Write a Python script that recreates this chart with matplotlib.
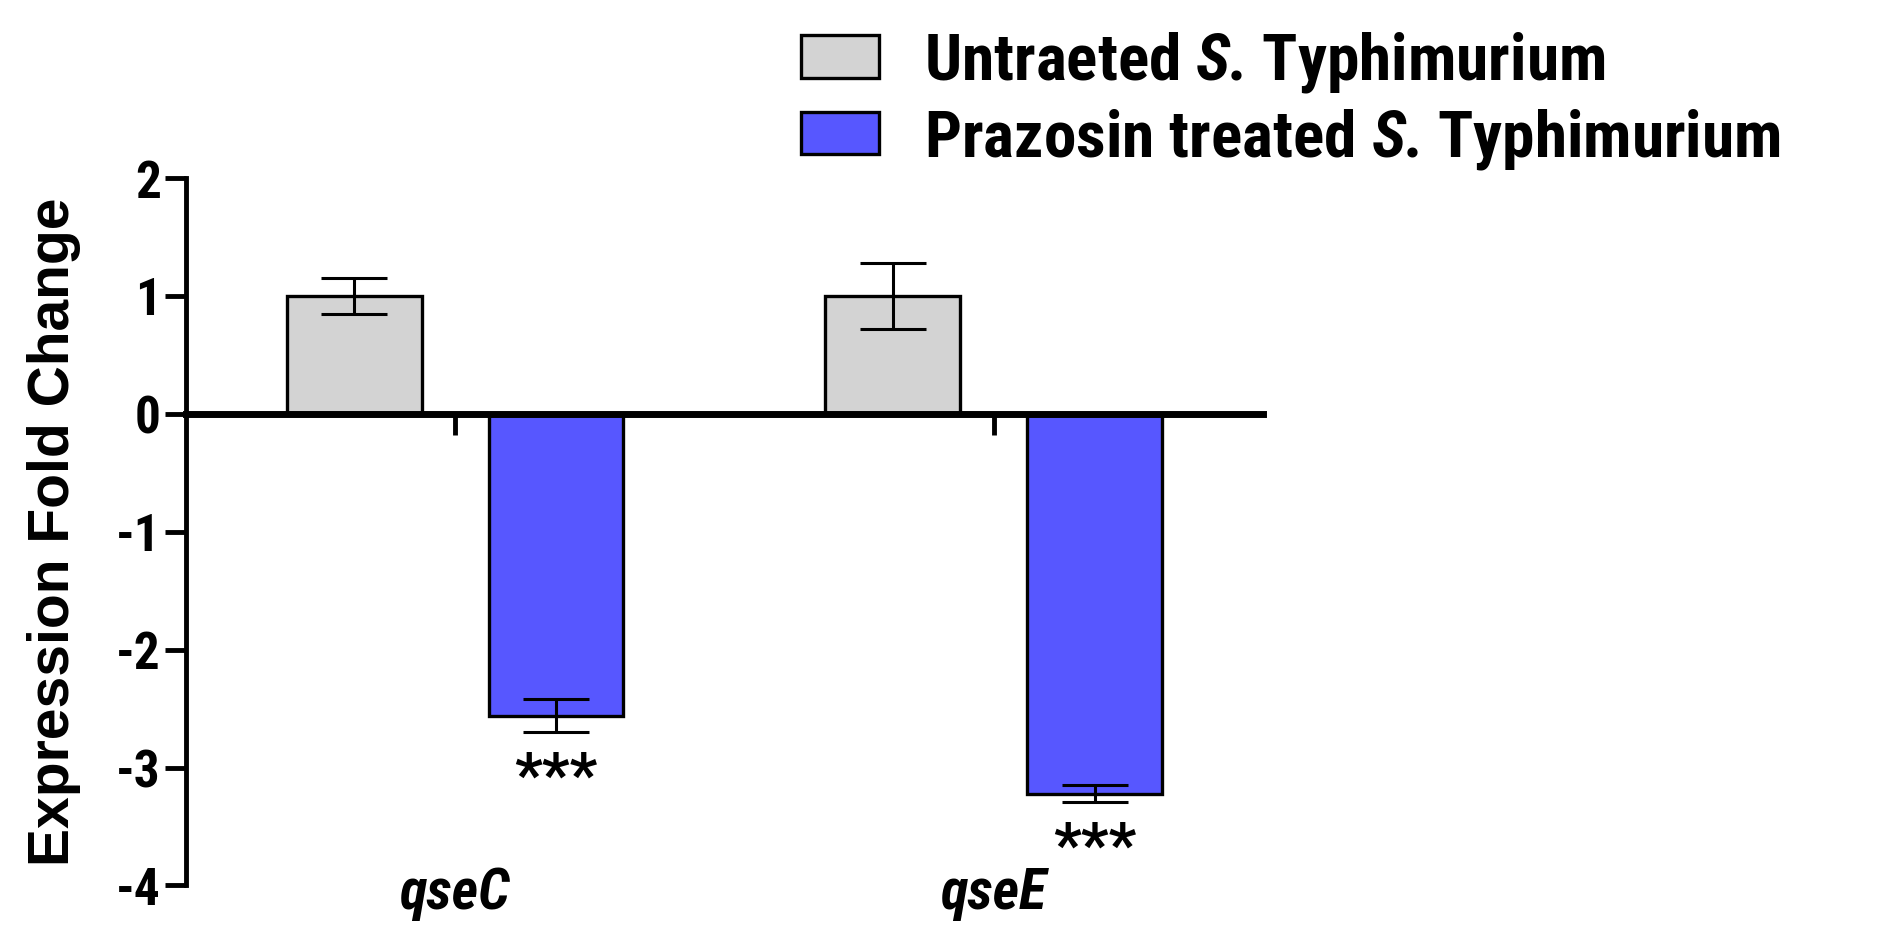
import matplotlib

matplotlib.use("Agg")
import matplotlib.pyplot as plt  # noqa: E402
import numpy as np  # noqa: E402

# data
genes = ["qseC", "qseE"]
untreated_mean = [1.0, 1.0]
untreated_err = [0.15, 0.28]
treated_mean = [-2.56, -3.22]
treated_err = [0.14, 0.075]
stars = ["***", "***"]
series_labels = [
    "Untraeted $\\mathbfit{S.}$Typhimurium",
    "Prazosin treated $\\mathbfit{S.}$Typhimurium",
]
y_ticks = [2, 1, 0, -1, -2, -3, -4]

GRAY = "#D3D3D3"
BLUE = "#5757FF"
NARROW = ["Roboto Condensed", "Liberation Sans", "DejaVu Sans"]
WIDE = ["Liberation Sans", "DejaVu Sans"]

plt.rcParams["font.family"] = NARROW
plt.rcParams["font.weight"] = "bold"
plt.rcParams["axes.unicode_minus"] = False
plt.rcParams["mathtext.fontset"] = "custom"
plt.rcParams["mathtext.bfit"] = "Roboto Condensed:bold:italic"

fig = plt.figure(figsize=(18.8, 9.42), dpi=100)
ax = fig.add_axes([0.0989, 0.0600, 0.5729, 0.7510])

x = np.arange(len(genes))
width, off = 0.25, 0.1875
err_kw = dict(elinewidth=2.2, capthick=2.2, ecolor="black")
ax.bar(x - off, untreated_mean, width, yerr=untreated_err, color=GRAY,
       edgecolor="black", linewidth=2.4, capsize=24, error_kw=err_kw,
       label=series_labels[0])
ax.bar(x + off, treated_mean, width, yerr=treated_err, color=BLUE,
       edgecolor="black", linewidth=2.4, capsize=24, error_kw=err_kw,
       label=series_labels[1])

# significance marks under the treated bars
for xi, m, e, s in zip(x + off, treated_mean, treated_err, stars):
    ax.text(xi, m - e - 0.54, s, ha="center", va="baseline", fontsize=44)

ax.set_xlim(-0.5, 1.5)
ax.set_ylim(-4, 2)
ax.set_yticks(y_ticks)
ax.tick_params(axis="y", labelsize=37, length=15, width=3.5, pad=3)
ax.spines[["top", "right"]].set_visible(False)
ax.spines["left"].set_linewidth(3.5)
ax.spines["bottom"].set_position(("data", 0))
ax.spines["bottom"].set_linewidth(5)
ax.set_xticks(x, ["", ""])
ax.tick_params(axis="x", length=15, width=3.5, direction="out")

# gene names sit at the foot of the y axis, not at the zero line
for xi, g in zip(x, genes):
    ax.text(xi, -4.2, g, ha="center", va="baseline", fontsize=41,
            style="italic", clip_on=False)

ax.set_ylabel("Expression Fold Change", family=WIDE, fontsize=41, fontweight="bold")
ax.yaxis.set_label_coords(-0.097, 0.5)

handles, labels = ax.get_legend_handles_labels()
fig.legend(handles, labels, loc="upper left", bbox_to_anchor=(801 / 1880, 1 - 30 / 942),
           frameon=False, fontsize=47, borderpad=0, borderaxespad=0,
           handlelength=1.2, handleheight=0.62, handletextpad=0.68,
           labelspacing=0.18)

fig.savefig("out.png", dpi=100)
